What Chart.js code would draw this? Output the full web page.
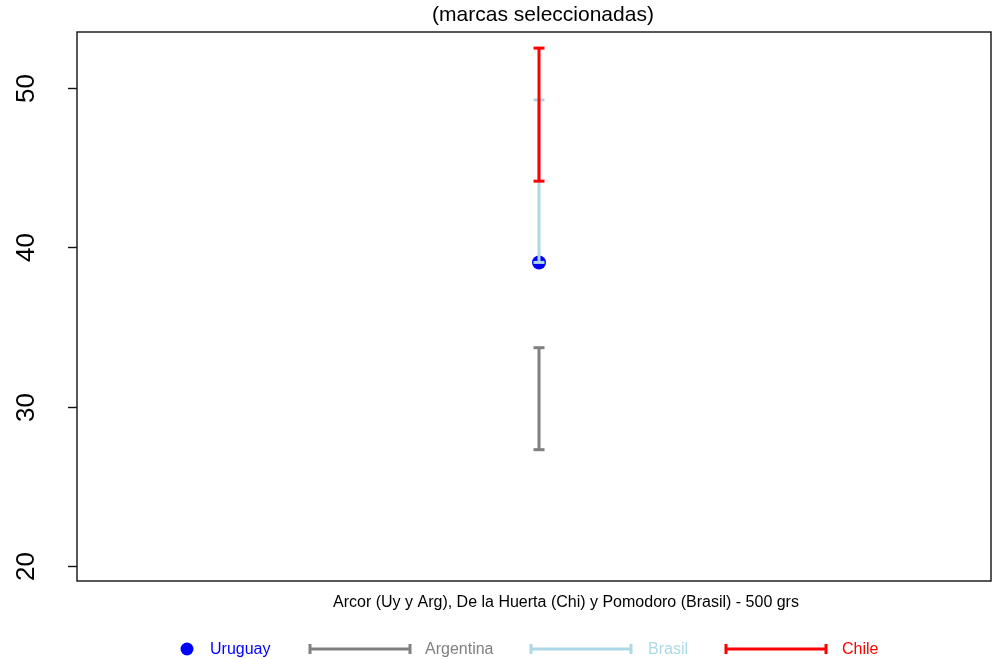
<!DOCTYPE html>
<html><head><meta charset="utf-8">
<script src="https://cdn.jsdelivr.net/npm/chart.js@4/dist/chart.umd.min.js"></script>
<style>html,body{margin:0;padding:0;background:#fff}canvas{display:block}</style>
</head><body>
<canvas id="c" width="992" height="659"></canvas>
<script>
// ---- data ----
const titleText = "(marcas seleccionadas)";
const categoryLabel = "Arcor (Uy y Arg), De la Huerta (Chi) y Pomodoro (Brasil) - 500 grs";
const countries = ["Uruguay", "Argentina", "Brasil", "Chile"];
const countryColors = ["#0000FF", "#808080", "#ADD8E6", "#FF0000"];
const uruguayValue = [39.05];
const argentinaRange = [27.3, 33.7];
const brasilRange = [39.05, 49.25];
const chileRange = [44.15, 52.5];
const yTickValues = [20, 30, 40, 50];
const categoryPosition = 1;

const FONT = '"Liberation Sans", Arial, Helvetica, sans-serif';

function rangeData(r) { return r.map(v => ({ x: categoryPosition, y: v })); }
function errorBarDataset(label, r, color, order) {
  return {
    type: 'line', label, data: rangeData(r), order,
    borderColor: color, borderWidth: 3, showLine: true,
    pointStyle: 'line', pointRadius: 5.5, pointHoverRadius: 5.5,
    pointBorderWidth: 3, pointBorderColor: color, pointBackgroundColor: color,
    clip: false
  };
}

const decor = {
  id: 'decor',
  afterDraw(chart) {
    const { ctx, chartArea: a, scales: { y } } = chart;
    ctx.save();
    ctx.strokeStyle = '#111';
    ctx.lineWidth = 1.4;
    ctx.strokeRect(a.left, a.top, a.right - a.left, a.bottom - a.top);
    // y ticks & labels
    ctx.font = '26px ' + FONT;
    ctx.fillStyle = '#000';
    y.ticks.forEach(t => {
      const py = Math.round(y.getPixelForValue(t.value)) + 0.5;
      ctx.beginPath(); ctx.moveTo(a.left - 9, py); ctx.lineTo(a.left, py); ctx.stroke();
      ctx.save(); ctx.translate(34, py); ctx.rotate(-Math.PI / 2);
      ctx.textAlign = 'center'; ctx.textBaseline = 'alphabetic';
      ctx.fillText(String(t.value), 0, 0); ctx.restore();
    });
    // title
    ctx.font = '21px ' + FONT; ctx.textAlign = 'center'; ctx.textBaseline = 'alphabetic';
    ctx.fillText(titleText, 543, 21);
    // x label
    ctx.font = '16px ' + FONT;
    ctx.fillText(categoryLabel, 566, 607);
    // legend
    const ly = 649;
    const items = [
      { sym: 'dot', sx: 187, tx: 210 },
      { sym: 'bar', sx: 310, tx: 425 },
      { sym: 'bar', sx: 531, tx: 648 },
      { sym: 'bar', sx: 726, tx: 842 }
    ];
    ctx.textAlign = 'left'; ctx.textBaseline = 'middle';
    items.forEach((it, i) => {
      const c = countryColors[i];
      ctx.fillStyle = c; ctx.strokeStyle = c;
      if (it.sym === 'dot') {
        ctx.beginPath(); ctx.arc(it.sx, ly, 6.5, 0, Math.PI * 2); ctx.fill();
      } else {
        ctx.lineWidth = 3;
        ctx.beginPath();
        ctx.moveTo(it.sx, ly); ctx.lineTo(it.sx + 100, ly);
        ctx.moveTo(it.sx, ly - 5); ctx.lineTo(it.sx, ly + 5);
        ctx.moveTo(it.sx + 100, ly - 5); ctx.lineTo(it.sx + 100, ly + 5);
        ctx.stroke();
      }
      ctx.fillText(countries[i], it.tx, ly + 1);
    });
    ctx.restore();
  }
};

new Chart(document.getElementById('c'), {
  data: {
    datasets: [
      { type: 'scatter', label: countries[0], data: uruguayValue.map(v => ({ x: categoryPosition, y: v })),
        order: 4, pointRadius: 7, pointHoverRadius: 7, backgroundColor: countryColors[0], borderWidth: 0, clip: false },
      errorBarDataset(countries[1], argentinaRange, countryColors[1], 3),
      errorBarDataset(countries[2], brasilRange, countryColors[2], 2),
      errorBarDataset(countries[3], chileRange, countryColors[3], 1)
    ]
  },
  options: {
    responsive: false,
    animation: false,
    events: [],
    layout: { autoPadding: false, padding: { top: 32, right: 1, bottom: 78, left: 0 } },
    scales: {
      x: { type: 'linear', display: false, min: 0.4, max: 1.587 },
      y: {
        type: 'linear', display: true, min: 19.06, max: 53.51,
        ticks: { display: false },
        grid: { display: false },
        border: { display: false },
        afterBuildTicks(scale) { scale.ticks = yTickValues.map(v => ({ value: v })); },
        afterFit(scale) { scale.width = 77; }
      }
    },
    plugins: { legend: { display: false }, tooltip: { enabled: false }, title: { display: false } }
  },
  plugins: [decor]
});
</script>
</body></html>
